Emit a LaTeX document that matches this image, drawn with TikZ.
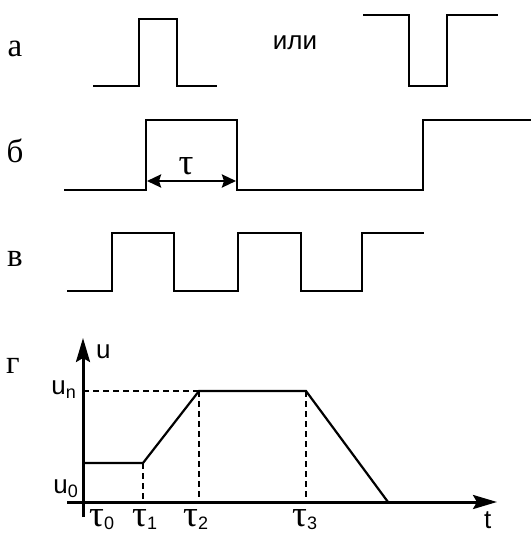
\documentclass[tikz,border=0pt]{standalone}
\usepackage{fontspec}
\setmainfont{Liberation Serif}
\setsansfont{Liberation Sans}
\usetikzlibrary{arrows.meta}
\newcommand\mysub[1]{\raisebox{-4pt}{\sffamily\fontsize{18}{18}\selectfont #1}}
\newcommand\tausub[1]{\raisebox{-3pt}{\sffamily\fontsize{18}{18}\selectfont #1}}
\begin{document}
\begin{tikzpicture}[x=1pt,y=-1pt,
  wave/.style={line width=2.2pt, line join=miter},
  axis/.style={line width=3pt,-{Stealth[length=24pt,width=14pt,inset=4pt]}},
  dim/.style={line width=2.6pt,{Stealth[length=14pt,width=13pt,inset=2pt]}-{Stealth[length=14pt,width=13pt,inset=2pt]}},
  dsh/.style={line width=2.1pt,dash pattern=on 6pt off 4pt},
  lbl/.style={font=\fontsize{33}{33}\selectfont, anchor=base, inner sep=0pt},
  sans/.style={font=\sffamily\fontsize{26}{26}\selectfont, inner sep=0pt},
  tau/.style={font=\fontsize{37}{37}\selectfont, anchor=base west, inner sep=0pt},
]
\useasboundingbox (0,0) rectangle (531,534);
% panel labels
\node[lbl] (la) at (15,57) {а};
\node[lbl] (lb) at (15,163) {б};
\node[lbl] (lv) at (15,266) {в};
\node[lbl] (lg) at (13,373) {г};
% panel a
\draw[wave] (93,86) -- (139,86) -- (139,19) -- (177,19) -- (177,86) -- (217,86);
\node[sans, anchor=base] (ili) at (295,50) {или};
\draw[wave] (363,15) -- (409,15) -- (409,86) -- (447,86) -- (447,15) -- (498,15);
% panel b
\draw[wave] (64,190) -- (146,190) -- (146,120) -- (237,120) -- (237,190) -- (423,190) -- (423,120) -- (531,120);
\coordinate (p1) at (147,181);
\coordinate (p2) at (236,181);
\draw[dim] (p1) -- (p2);
\node[tau, anchor=base] (tau) at (186,175) {τ};
% panel v
\draw[wave] (67,291) -- (112,291) -- (112,233) -- (174,233) -- (174,291) -- (238,291) -- (238,233) -- (301,233) -- (301,291) -- (362,291) -- (362,233) -- (424,233);
% panel g
\coordinate (xs) at (67,502);
\coordinate (xe) at (497,502);
\coordinate (ys) at (83,517);
\coordinate (ye) at (83,338);
\coordinate (a0) at (83,463);
\coordinate (a1) at (143,463);
\coordinate (a2) at (199,391);
\coordinate (a3) at (306,391);
\coordinate (a4) at (388,502);
\coordinate (yn) at (83,391);
\coordinate (b1) at (143,502);
\coordinate (b2) at (199,502);
\coordinate (b3) at (306,502);
\draw[dsh] (yn) -- (a2);
\draw[dsh] (a1) -- (b1);
\draw[dsh, line width=2.8pt] (a2) -- (b2);
\draw[dsh] (a3) -- (b3);
\draw[wave] (a0) -- (a1) -- (a2) -- (a3) -- (a4);
\draw[axis] (xs) -- (xe);
\draw[axis] (ys) -- (ye);
\node[sans, anchor=base west] (u) at (96,358) {u};
\node[sans, anchor=base east] (un) at (76,394) {u\mysub{n}};
\node[sans, anchor=base east] (u0) at (78,493) {u\mysub{0}};
\node[tau] (t0) at (89,526) {τ\tausub{0}};
\node[tau] (t1) at (132,526) {τ\tausub{1}};
\node[tau] (t2) at (183,526) {τ\tausub{2}};
\node[tau] (t3) at (292,526) {τ\tausub{3}};
\node[sans, anchor=base west] (t) at (484,528) {t};
\end{tikzpicture}
\end{document}
